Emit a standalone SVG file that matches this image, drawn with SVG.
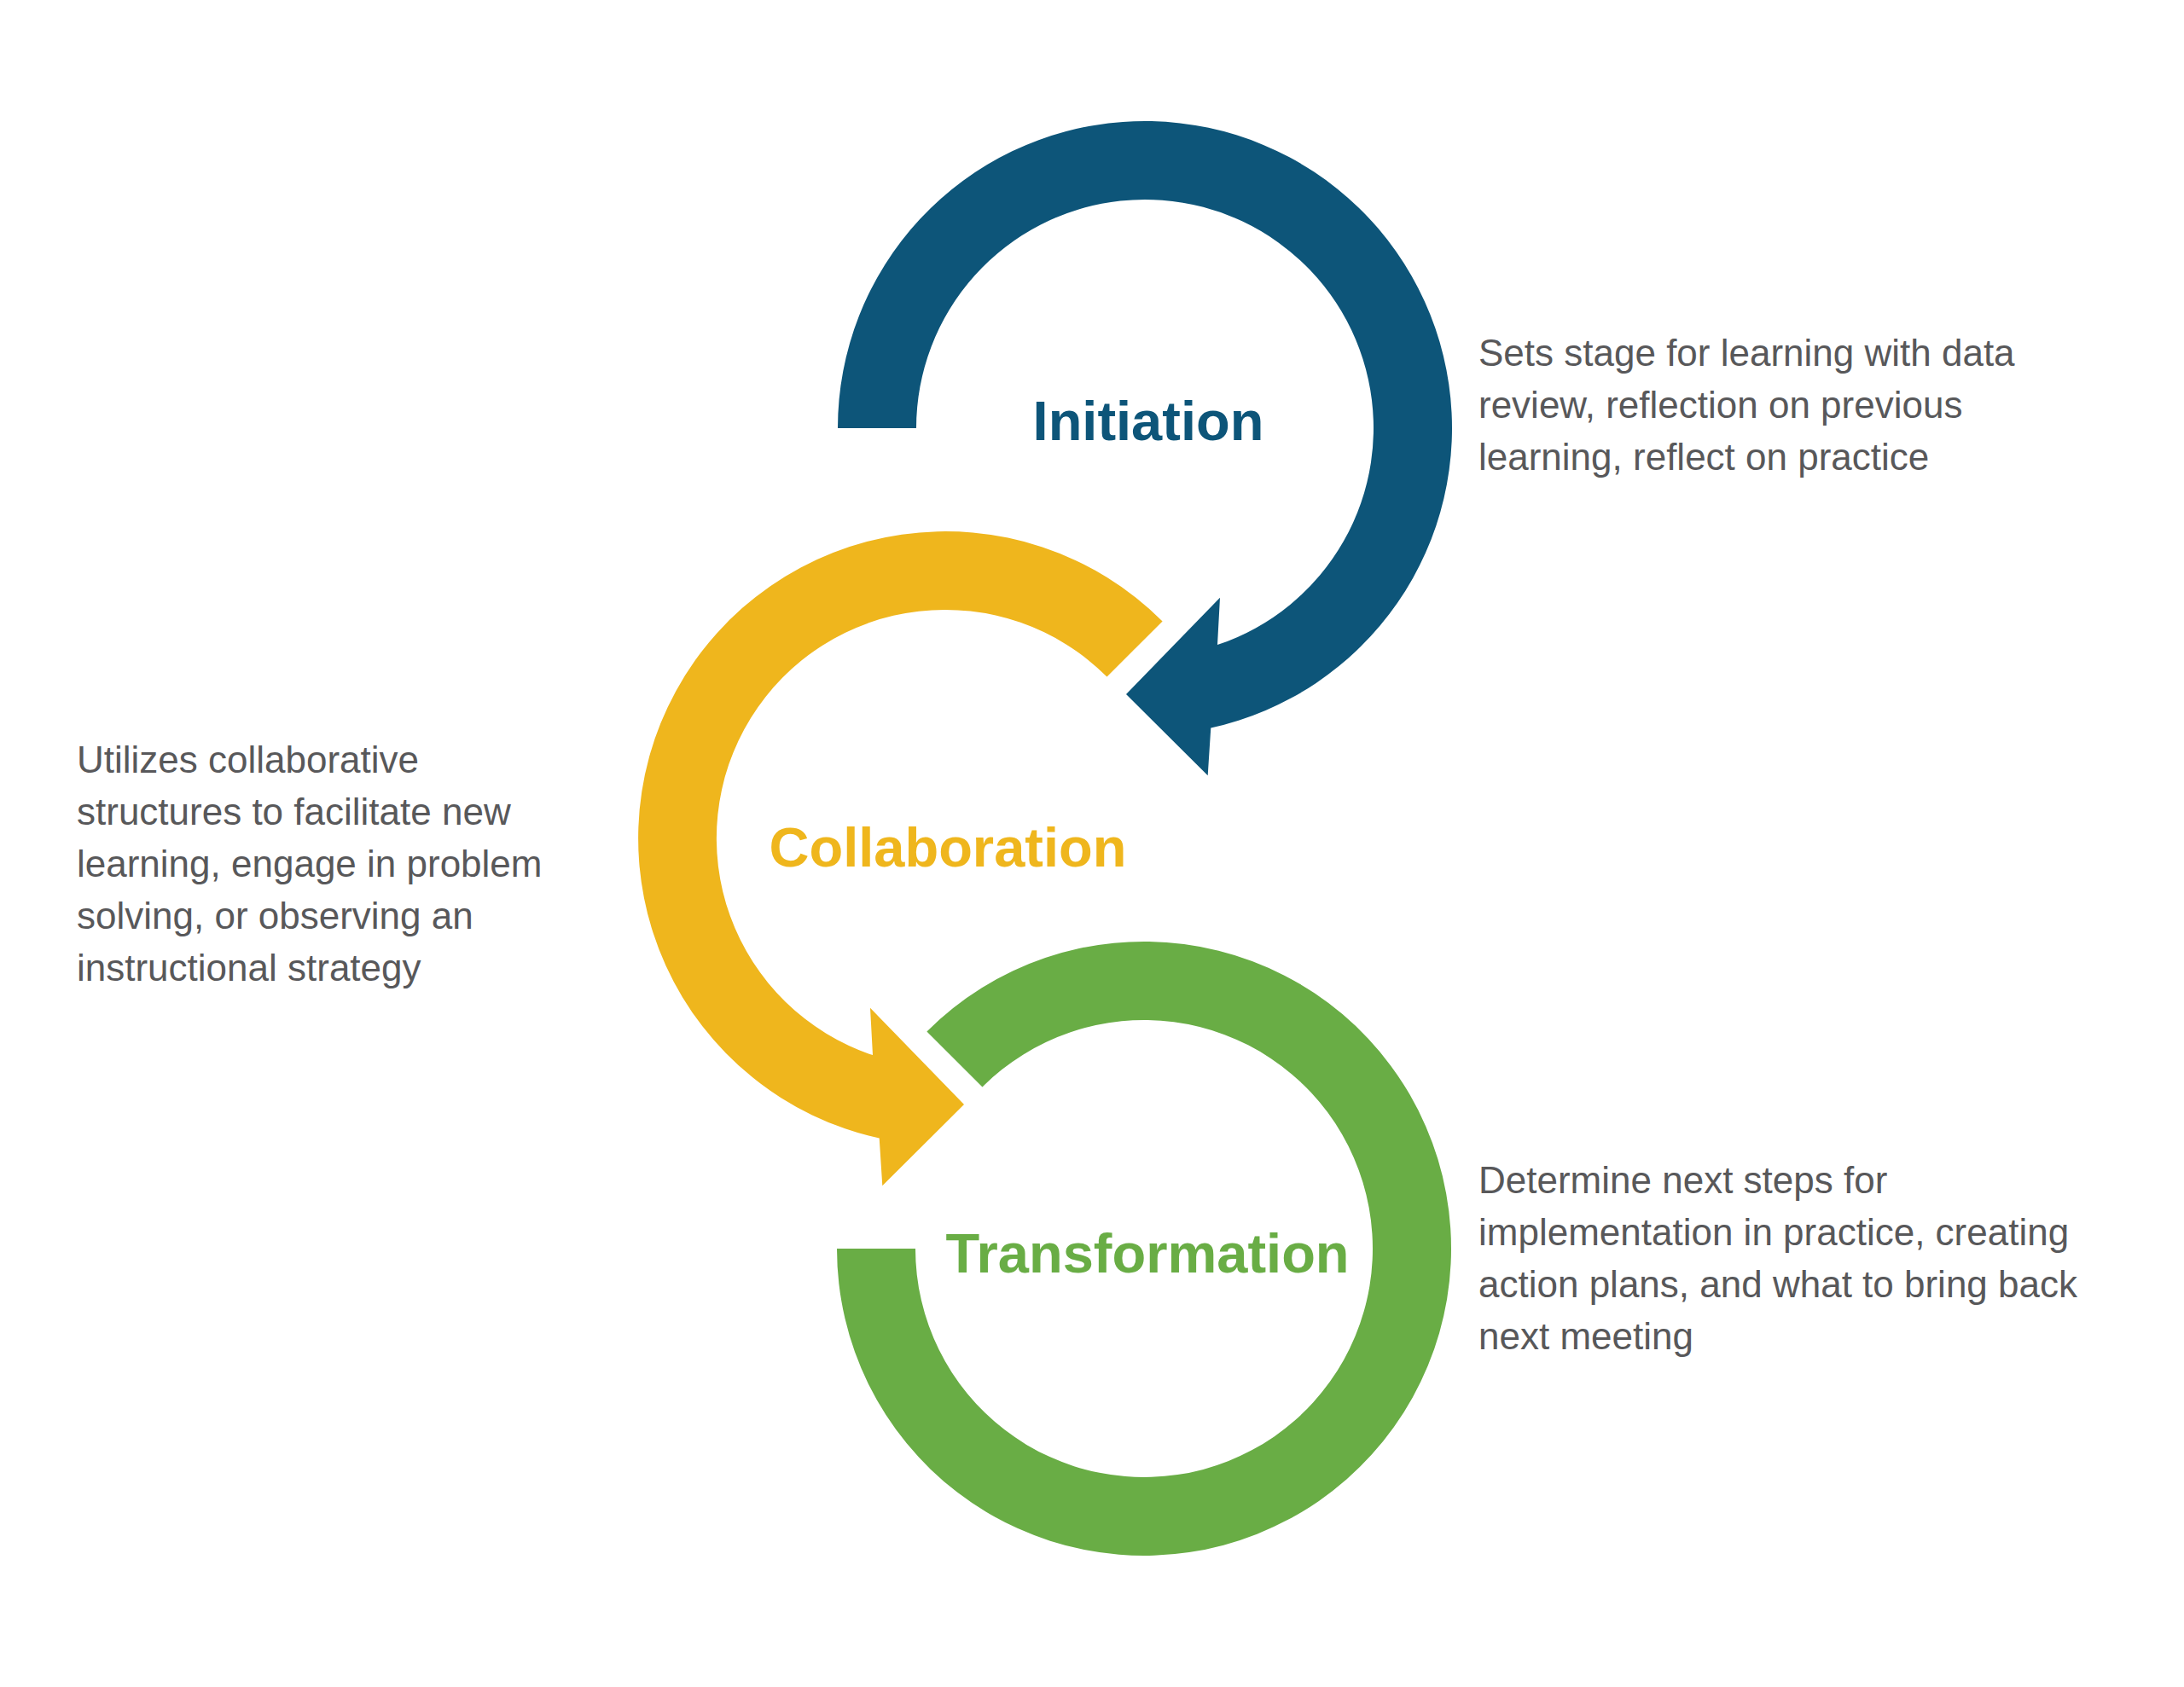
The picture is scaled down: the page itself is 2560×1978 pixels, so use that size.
<svg xmlns="http://www.w3.org/2000/svg" width="2560" height="1978" viewBox="0 0 2560 1978">
  <style>
    .title { font-family: "Liberation Sans", Arial, sans-serif; font-weight: bold; font-size: 65px; text-anchor: middle; }
    .desc { font-family: "Liberation Sans", Arial, sans-serif; font-size: 44px; fill: #58585A; }
    .blue { fill: #0D5579; }
    .yellow { fill: #EFB61D; }
    .green { fill: #69AD45; }
  </style>
  <rect x="0" y="0" width="2560" height="1978" fill="#FFFFFF"/>
  <g id="connectors">
    <path id="ring-initiation" class="blue" d="M 982 502 A 360 360 0 1 1 1419.3 853.6 L 1415.7 909.3 L 1320 814 L 1430 700.7 L 1427 756.1 A 268 268 0 1 0 1074 502 Z"/>
    <path id="ring-collaboration" class="yellow" d="M 1362.6 728.4 A 360 360 0 1 0 1030.7 1334.6 L 1034.3 1390.3 L 1130 1295 L 1020 1181.7 L 1023 1237.1 A 268 268 0 1 1 1297.5 793.5 Z"/>
    <path id="ring-transformation" class="green" d="M 1086.4 1209.4 A 360 360 0 1 1 981 1464 L 1073 1464 A 268 268 0 1 0 1151.5 1274.5 Z"/>
  </g>
  <g id="node-initiation">
    <text class="title blue" x="1346" y="516">Initiation</text>
    <text class="desc" x="1733">
      <tspan x="1733" y="429">Sets stage for learning with data</tspan>
      <tspan x="1733" y="490">review, reflection on previous</tspan>
      <tspan x="1733" y="551">learning, reflect on practice</tspan>
    </text>
  </g>
  <g id="node-collaboration">
    <text class="title yellow" x="1111" y="1016">Collaboration</text>
    <text class="desc" x="90">
      <tspan x="90" y="906">Utilizes collaborative</tspan>
      <tspan x="90" y="967">structures to facilitate new</tspan>
      <tspan x="90" y="1028">learning, engage in problem</tspan>
      <tspan x="90" y="1089">solving, or observing an</tspan>
      <tspan x="90" y="1150">instructional strategy</tspan>
    </text>
  </g>
  <g id="node-transformation">
    <text class="title green" x="1345" y="1492">Transformation</text>
    <text class="desc" x="1733">
      <tspan x="1733" y="1399">Determine next steps for</tspan>
      <tspan x="1733" y="1460">implementation in practice, creating</tspan>
      <tspan x="1733" y="1521">action plans, and what to bring back</tspan>
      <tspan x="1733" y="1582">next meeting</tspan>
    </text>
  </g>
</svg>
